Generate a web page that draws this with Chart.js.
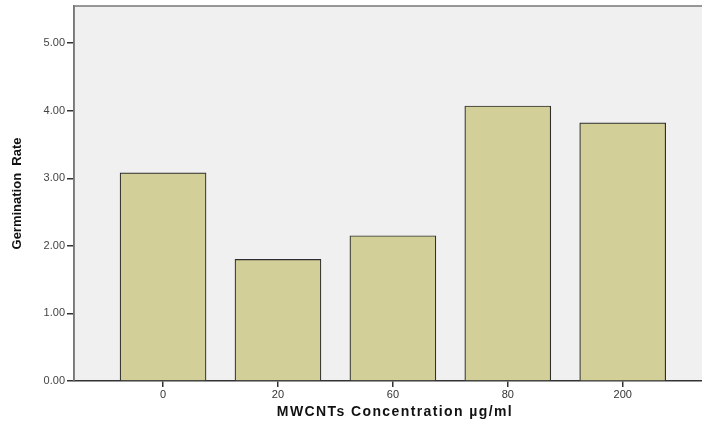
<!DOCTYPE html>
<html><head><meta charset="utf-8">
<script src="https://cdn.jsdelivr.net/npm/chart.js@4/dist/chart.umd.min.js"></script>
<style>html,body{margin:0;padding:0;background:#fff}#wrap{width:702px;height:425px}</style>
</head><body><div id="wrap"><canvas id="c" width="702" height="425"></canvas></div>
<script>
const categories = ["0", "20", "60", "80", "200"];
const germinationRate = [3.08, 1.80, 2.15, 4.07, 3.82];
const yTicks = [0, 1, 2, 3, 4, 5];
const xTitle = 'MWCNTs Concentration µg/ml';

const plotBg = {
  id: 'plotBg',
  beforeDraw(chart) {
    const {ctx, chartArea: a} = chart;
    ctx.save();
    ctx.fillStyle = '#f0f0f0';
    ctx.fillRect(a.left, a.top, a.right - a.left, a.bottom - a.top);
    ctx.strokeStyle = '#777';
    ctx.lineWidth = 1.5;
    ctx.beginPath();
    ctx.moveTo(a.left, a.bottom);
    ctx.lineTo(a.left, a.top);
    ctx.lineTo(a.right, a.top);
    ctx.stroke();
    ctx.restore();
  },
  afterDraw(chart) {
    const {ctx} = chart;
    ctx.save();
    ctx.font = 'bold 14px "Liberation Sans", Arial';
    ctx.letterSpacing = '1.4px';
    ctx.fillStyle = '#111';
    ctx.textAlign = 'center';
    ctx.textBaseline = 'middle';
    ctx.fillText(xTitle, 395, 412);
    ctx.restore();
  }
};

new Chart(document.getElementById('c'), {
  type: 'bar',
  data: {
    datasets: [{
      data: germinationRate.map((v, i) => ({x: i, y: v})),
      backgroundColor: '#d3cf98',
      borderColor: '#2e2e2e',
      borderWidth: 1.2,
      barThickness: 86
    }]
  },
  options: {
    responsive: false,
    animation: false,
    events: [],
    layout: {padding: {left: 0, right: 0, top: 0, bottom: 0}},
    plugins: {legend: {display: false}, tooltip: {enabled: false}},
    scales: {
      x: {
        type: 'linear',
        min: -0.775,
        max: 4.69,
        offset: false,
        afterBuildTicks(s) { s.ticks = categories.map((c, i) => ({value: i})); },
        afterFit(s) { s.height = 44; },
        ticks: {
          callback: (v) => categories[v],
          color: '#333',
          font: {family: 'Liberation Sans, Arial', size: 11},
          padding: 1,
          maxRotation: 0,
          autoSkip: false
        },
        grid: {display: true, offset: false, drawOnChartArea: false, tickLength: 6, color: '#333', lineWidth: 1.5},
        border: {display: true, color: '#333', width: 1.5},
        title: {display: false}
      },
      y: {
        min: 0,
        max: 5.55,
        afterBuildTicks(s) { s.ticks = yTicks.map(v => ({value: v})); },
        afterFit(s) { s.width = 74; s.paddingTop = 6; },
        ticks: {
          callback: (v) => v.toFixed(2),
          color: '#444',
          font: {family: 'Liberation Sans, Arial', size: 11},
          padding: 2
        },
        grid: {display: true, drawOnChartArea: false, tickLength: 7, color: '#333', lineWidth: 1.5},
        border: {display: true, color: '#777', width: 1.5},
        title: {
          display: true,
          text: 'Germination  Rate',
          color: '#111',
          font: {family: 'Liberation Sans Narrow, Liberation Sans, Arial', size: 13, weight: 'bold'},
          padding: {top: 10, bottom: 0}
        }
      }
    }
  },
  plugins: [plotBg]
});
</script></body></html>
